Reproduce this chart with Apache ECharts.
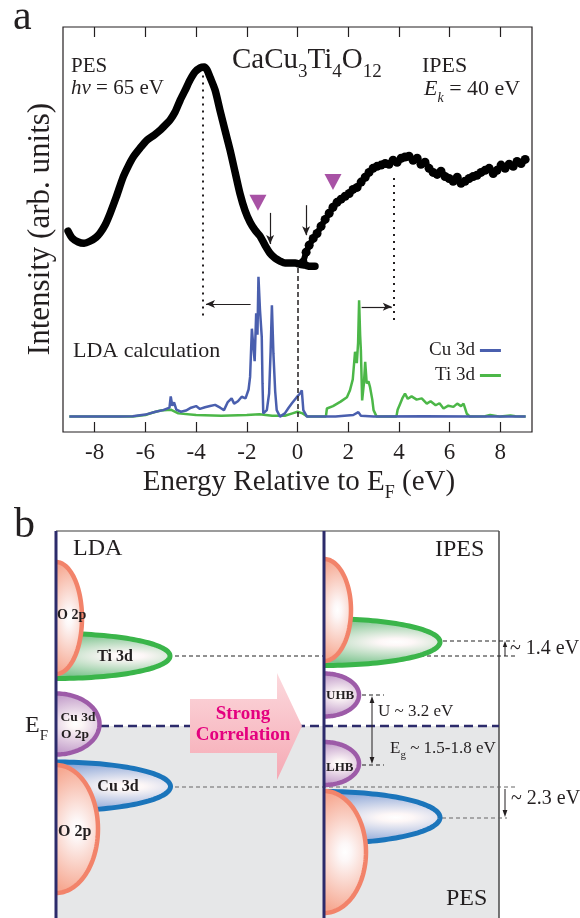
<!DOCTYPE html>
<html><head><meta charset="utf-8">
<script src="https://cdn.jsdelivr.net/npm/echarts@6/dist/echarts.min.js"></script>
<style>html,body{margin:0;padding:0;background:#fff}#c{width:580px;height:918px}</style>
</head><body><div id="c"></div>
<script>
// ---------- data (panel a) ----------
const xTicks = [-8,-6,-4,-2,0,2,4,6,8];
const pesData = [[-9.05,49.6],[-8.89,47.9],[-8.65,46.9],[-8.42,46.6],[-8.19,47.1],[-7.94,48.1],[-7.79,49.1],[-7.59,51.1],[-7.39,54.0],[-7.15,58.0],[-6.88,62.9],[-6.68,65.6],[-6.48,67.9],[-6.21,70.1],[-5.93,72.1],[-5.66,73.3],[-5.42,74.5],[-5.18,76.0],[-5.03,77.0],[-4.83,79.0],[-4.63,81.9],[-4.43,84.4],[-4.24,86.9],[-4.04,88.9],[-3.84,89.9],[-3.68,90.1],[-3.57,89.4],[-3.45,87.6],[-3.25,84.4],[-3.06,79.5],[-2.86,74.5],[-2.66,69.6],[-2.46,64.1],[-2.27,58.9],[-2.07,54.7],[-1.87,51.8],[-1.67,49.8],[-1.48,48.4],[-1.28,46.1],[-1.08,44.1],[-0.88,42.9],[-0.69,42.2],[-0.49,41.7],[-0.29,41.7],[-0.09,41.7],[0.10,41.4],[0.30,41.2],[0.50,40.9],[0.69,40.9]];
const ipesData = [[0.22,41.9],[0.34,44.4],[0.46,46.1],[0.62,47.8],[0.77,49.0],[0.93,50.8],[1.09,52.5],[1.25,54.0],[1.40,55.5],[1.56,56.7],[1.72,57.5],[1.88,58.2],[2.04,58.9],[2.19,59.9],[2.35,60.4],[2.51,61.7],[2.67,62.9],[2.82,64.1],[2.98,65.1],[3.14,65.6],[3.30,65.9],[3.46,66.3],[3.61,66.1],[3.77,67.1],[3.93,66.6],[4.09,67.6],[4.24,67.9],[4.40,68.1],[4.56,67.1],[4.72,67.6],[4.87,66.1],[5.03,66.6],[5.19,65.1],[5.35,64.1],[5.51,63.6],[5.66,64.4],[5.82,63.1],[5.98,62.6],[6.14,61.9],[6.30,62.9],[6.45,61.4],[6.61,61.9],[6.77,62.6],[6.93,63.1],[7.08,63.4],[7.24,64.1],[7.40,64.6],[7.56,65.1],[7.72,63.8],[7.87,64.6],[8.03,65.9],[8.19,65.1],[8.35,66.1],[8.51,65.6],[8.66,66.8],[8.82,66.3],[8.98,67.3]];
const cu3dData = [[-9.0,3.8],[-7.0,3.8],[-6.5,3.9],[-6.0,4.3],[-5.6,5.0],[-5.3,5.4],[-5.05,6.0],[-5.0,8.8],[-4.94,6.5],[-4.87,7.3],[-4.78,5.5],[-4.6,5.0],[-4.4,5.3],[-4.2,6.0],[-4.0,6.4],[-3.85,5.7],[-3.65,6.1],[-3.45,6.4],[-3.25,6.7],[-3.05,6.0],[-2.9,5.4],[-2.75,7.4],[-2.6,8.3],[-2.5,7.0],[-2.35,7.6],[-2.2,8.7],[-2.05,8.3],[-1.93,10.5],[-1.87,13.6],[-1.8,25.5],[-1.74,21.0],[-1.69,17.5],[-1.63,29.3],[-1.58,24.0],[-1.54,38.3],[-1.48,30.1],[-1.41,23.5],[-1.38,12.0],[-1.35,4.6],[-1.21,5.4],[-1.12,9.5],[-1.06,20.0],[-1.01,31.3],[-0.95,19.4],[-0.88,10.0],[-0.82,5.4],[-0.69,3.8],[-0.5,4.6],[-0.35,6.0],[-0.22,7.1],[-0.03,8.6],[0.1,9.5],[0.17,10.3],[0.23,5.4],[0.37,3.8],[1.5,3.8],[2.2,4.2],[2.4,4.9],[2.5,4.0],[3.0,3.8],[5.0,3.9],[7.0,3.8],[9.0,3.8]];
const ti3dData = [[-9.0,3.8],[-6.5,3.8],[-6.0,4.2],[-5.7,4.8],[-5.4,5.3],[-5.0,5.5],[-4.7,4.6],[-4.0,4.2],[-3.0,4.0],[-2.0,4.2],[-1.5,4.4],[-1.0,4.0],[-0.5,4.0],[-0.2,4.6],[0.0,5.0],[0.2,4.6],[0.4,3.8],[1.12,3.8],[1.16,5.8],[1.4,6.4],[1.7,7.5],[1.95,8.6],[2.07,10.3],[2.18,13.0],[2.27,19.8],[2.34,17.0],[2.39,22.0],[2.43,32.5],[2.47,24.0],[2.5,20.2],[2.55,7.8],[2.62,12.0],[2.67,17.3],[2.73,12.0],[2.8,12.5],[2.86,11.1],[2.95,8.0],[3.0,5.4],[3.12,3.8],[3.9,3.8],[3.95,5.5],[4.05,7.0],[4.15,8.5],[4.24,9.5],[4.35,8.2],[4.5,8.8],[4.7,8.0],[4.9,8.3],[5.1,7.0],[5.25,7.6],[5.45,6.6],[5.6,7.1],[5.76,5.8],[5.95,6.5],[6.15,6.2],[6.3,7.0],[6.45,6.4],[6.55,7.0],[6.68,4.5],[6.8,3.8],[7.4,3.9],[7.6,4.2],[8.0,3.8],[8.4,4.1],[8.6,3.9],[9.0,3.8]];
const triangleMarks = [[-1.56,56.6],[1.40,61.7]];
const peakGuides = [[-3.72,88.0,28.0],[3.78,62.7,26.4]];   // E, vTop, vBottom
const efGuide = [0,40.5,3.7];
const shiftArrows = [[-1.85,-3.61,31.6],[2.53,3.72,30.9]]; // Efrom, Eto, v
const downArrows = [[-1.08,54.1,46.4],[0.34,56.0,48.6]];   // E, vFrom, vTo

// ---------- schematic (panel b) ----------
const bandNames = ['Ti 3d','O 2p','Cu 3d / O 2p','Cu 3d','O 2p','Ti 3d','O 2p','UHB','LHB','Cu 3d','O 2p'];
const energyGaps = ['~ 1.4 eV','U ~ 3.2 eV','1.5-1.8 eV','~ 2.3 eV'];

const TXT = '#231f20';
const SERIF = "'Liberation Serif', 'Times New Roman', serif";
const NAVY = '#2c2b6b';
const mctx = document.createElement('canvas').getContext('2d');
function fnt(size, o){ o=o||{}; return (o.style||'normal')+' '+(o.weight||'normal')+' '+size+'px '+SERIF; }
function tw(t, f){ mctx.font = f; return mctx.measureText(t).width; }
let zc = 10;
function txt(text, x, base, size, o){
  o=o||{};
  const al = o.align||'left';
  return {type:'text', z: 60, x:x, y: base - 0.33*size, rotation:o.rot||0,
    style:{text:text, font:fnt(size,o), fill:o.fill||TXT, textAlign:al, align:al, textVerticalAlign:'middle', verticalAlign:'middle'}};
}
function seq(parts, x, base, align){
  const ws = parts.map(p=>tw(p.t, fnt(p.size,p)));
  const total = ws.reduce((a,b)=>a+b,0);
  let cx = align==='center' ? x-total/2 : x;
  return parts.map((p,i)=>{ const e = txt(p.t, cx, base+(p.dy||0), p.size, p); cx += ws[i]; return e; });
}
function line(x1,y1,x2,y2,stroke,w,dash){
  return {type:'line', z: zc++, shape:{x1,y1,x2,y2}, style:{stroke, lineWidth:w, lineDash:dash||null}};
}
function head(x,y,dir,len,half){
  len=len||7; half=half||2.6;
  let p;
  if(dir==='up') p=[[x,y],[x-half,y+len],[x+half,y+len]];
  else if(dir==='down') p=[[x,y],[x-half,y-len],[x+half,y-len]];
  return {type:'polygon', z: zc++, shape:{points:p}, style:{fill:TXT}};
}
const palette = {
  o2p:{stroke:'#f2836a', fill:'#f6a891', w:4.5, gx:0.5, r:1.0},
  green:{stroke:'#3ab54a', fill:'#7cc48e', w:5, gx:0.62, r:1.0},
  purple:{stroke:'#9d5ba8', fill:'#c29dca', w:4.5, gx:0.45, r:1.0},
  blue:{stroke:'#1b75bb', fill:'#8ca7d8', w:5, gx:0.62, r:1.0}
};
function band(x0, cy, rx, ry, kind){
  const pal = palette[kind];
  const n = 80, circ = [], pts = [];
  for(let i=0;i<=n;i++){
    const t = -Math.PI/2 + Math.PI*i/n;
    circ.push([rx*Math.cos(t), rx*Math.sin(t)]);
    pts.push([x0+rx*Math.cos(t), cy+ry*Math.sin(t)]);
  }
  return [
    {type:'polygon', z: zc++, x:x0, y:cy, scaleY: ry/rx, shape:{points:circ},
      style:{fill:{type:'radial', x:pal.gx, y:0.5, r:pal.r, colorStops:[{offset:0,color:'#ffffff'},{offset:0.15,color:'#fdf7f7'},{offset:1,color:pal.fill}]}}},
    {type:'polyline', z: zc++, shape:{points:pts}, style:{stroke:pal.stroke, lineWidth:pal.w, fill:'none'}}
  ];
}

const G = [];
// panel labels
G.push(txt('a', 13, 32, 42));
G.push(txt('b', 14, 540, 42));
// panel a texts
G.push(txt('PES', 71, 73, 21));
G.push(...seq([{t:'h\u03BD', size:21, style:'italic'},{t:' = 65 eV', size:21}], 71, 95));
G.push(...seq([{t:'CaCu',size:29},{t:'3',size:19,dy:8},{t:'Ti',size:29},{t:'4',size:19,dy:8},{t:'O',size:29},{t:'12',size:19,dy:8}], 232, 70));
G.push(txt('IPES', 422, 73, 22));
G.push(...seq([{t:'E',size:22,style:'italic'},{t:'k',size:14,style:'italic',dy:7},{t:' = 40 eV',size:22}], 424, 96));
G.push(txt('LDA calculation', 73, 358, 22));
G.push({type:'text', z:60, x:41, y:229, rotation:Math.PI/2, style:{text:'Intensity (arb. units)', font:fnt(31), fill:TXT, textAlign:'center', align:'center', textVerticalAlign:'middle', verticalAlign:'middle'}});
G.push(...seq([{t:'Energy Relative to E',size:29},{t:'F',size:18,dy:7},{t:' (eV)',size:29}], 299, 492, 'center'));

// panel b frame
const B = {x0:56, xm:324, x1:499, y0:531, yF:726, y1:918};
G.push({type:'rect', z: zc++, shape:{x:B.x0, y:B.yF, width:B.x1-B.x0, height:B.y1-B.yF}, style:{fill:'#e6e7e8'}});
G.push(line(B.x0, B.y0, B.x1, B.y0, '#3a3a3a', 1.2));
G.push(line(B.x1, B.y0, B.x1, B.y1, '#4a4a4a', 1.5));
// level guides
G.push(line(175, 656, 515, 656, '#222', 1, [4,3]));
G.push(line(175, 787, 515, 787, '#666', 1.2, [4,3]));
G.push(line(443, 641, 515, 641, '#222', 1, [4,3]));
G.push(line(442, 818, 507, 818, '#666', 1.2, [4,3]));
G.push(line(362, 695, 384, 695, '#222', 1, [4,3]));
G.push(line(362, 765, 384, 765, '#222', 1, [4,3]));
G.push(line(100, B.yF, B.x1, B.yF, NAVY, 2.6, [9,5]));
// Strong correlation arrow
G.push({type:'polygon', z: zc++, shape:{points:[[190,699],[277,699],[277,673],[302,726],[277,780],[277,753],[190,753]]},
  style:{fill:{type:'linear', x:0, y:0, x2:0, y2:1, colorStops:[{offset:0,color:'#fcd9dd'},{offset:1,color:'#f5a9b4'}]}}});
// bands: left (LDA)
G.push(...band(56, 656, 114, 22.5, 'green'));
G.push(...band(56, 618, 26, 56, 'o2p'));
G.push(...band(56, 724, 43.5, 30.5, 'purple'));
G.push(...band(56, 786.5, 114.5, 24.5, 'blue'));
G.push(...band(56, 829, 42, 64, 'o2p'));
// bands: right (PES/IPES)
G.push(...band(324, 642, 116, 23.5, 'green'));
G.push(...band(324, 610, 27, 51, 'o2p'));
G.push(...band(324, 695, 35, 21.5, 'purple'));
G.push(...band(324, 763.5, 35, 21.5, 'purple'));
G.push(...band(324, 817.5, 116, 26, 'blue'));
G.push(...band(324, 852, 42, 61, 'o2p'));
// navy verticals
G.push(line(B.x0, B.y0, B.x0, B.y1, NAVY, 3));
G.push(line(B.xm, B.y0, B.xm, B.y1, NAVY, 3));
// arrows
G.push(line(505, 656, 505, 645, TXT, 1)); G.push(head(505, 641, 'up', 6, 2.2));
G.push(line(372, 702, 372, 758, TXT, 1)); G.push(head(372, 696, 'up', 7, 2.4)); G.push(head(372, 764, 'down', 7, 2.4));
G.push(line(505, 789, 505, 811, TXT, 1)); G.push(head(505, 817, 'down', 7, 2.4));
// band labels
const B1 = {weight:'bold'};
G.push(txt(bandNames[0], 115, 662, 16, {weight:'bold', align:'center'}));
G.push(txt(bandNames[1], 57, 620, 14, B1));
G.push(txt('Cu 3d', 78, 722, 13.5, {weight:'bold', align:'center'}));
G.push(txt('O 2p', 75, 739, 13.5, {weight:'bold', align:'center'}));
G.push(txt(bandNames[3], 118, 792, 16, {weight:'bold', align:'center'}));
G.push(txt(bandNames[4], 58, 837, 16, B1));
G.push(txt(bandNames[7], 326, 700, 13, B1));
G.push(txt(bandNames[8], 326, 772, 13, B1));
G.push(txt('Strong', 243, 720, 19, {weight:'bold', align:'center', fill:'#e4007f'}));
G.push(txt('Correlation', 243, 741, 19, {weight:'bold', align:'center', fill:'#e4007f'}));
// panel b texts
G.push(txt('LDA', 73, 557, 24));
G.push(txt('IPES', 435, 558, 24));
G.push(txt('PES', 446, 907, 24));
G.push(...seq([{t:'E',size:24},{t:'F',size:15,dy:7}], 25, 734));
G.push(txt(energyGaps[1], 378, 717, 17));
G.push(...seq([{t:'E',size:17},{t:'g',size:11,dy:5},{t:' ~ '+energyGaps[2],size:17}], 390, 754));
G.push(txt(energyGaps[0], 510, 655, 20));
G.push(txt(energyGaps[3], 511, 805, 20));

const guideLine = {type:[2,5], width:2, color:TXT};
const markData = [];
peakGuides.forEach(g=>markData.push([{coord:[g[0],g[1]], symbol:'none'},{coord:[g[0],g[2]], symbol:'none', lineStyle:guideLine}]));
markData.push([{coord:[efGuide[0],efGuide[1]], symbol:'none'},{coord:[efGuide[0],efGuide[2]], symbol:'none', lineStyle:{type:[5,3], width:1.5, color:TXT}}]);
shiftArrows.forEach(a=>markData.push([{coord:[a[0],a[2]], symbol:'none'},{coord:[a[1],a[2]], symbol:'arrow', symbolSize:[6,9], lineStyle:{type:'solid', width:1.2, color:TXT}}]));
downArrows.forEach(a=>markData.push([{coord:[a[0],a[1]], symbol:'none'},{coord:[a[0],a[2]], symbol:'arrow', symbolSize:[6,9], lineStyle:{type:'solid', width:1.2, color:TXT}}]));

const chart = echarts.init(document.getElementById('c'), null, {renderer:'canvas'});
chart.setOption({
  backgroundColor:'#fff',
  animation:false,
  grid:{left:63, top:27, width:469, height:405, show:true, borderColor:TXT, borderWidth:1.2, backgroundColor:'transparent'},
  xAxis:[
    {type:'value', min:-9.25, max:9.25, position:'bottom', axisLine:{show:false}, splitLine:{show:false},
     axisTick:{inside:true, length:10, customValues:xTicks, lineStyle:{color:TXT, width:1.2}},
     axisLabel:{customValues:xTicks, fontSize:23, fontFamily:SERIF, color:TXT, margin:9}},
    {type:'value', min:-9.25, max:9.25, position:'top', axisLine:{show:false}, splitLine:{show:false},
     axisTick:{inside:true, length:10, customValues:xTicks, lineStyle:{color:TXT, width:1.2}},
     axisLabel:{show:false}}
  ],
  yAxis:{type:'value', min:0, max:100, show:false},
  legend:{orient:'vertical', left:424, top:336, align:'right', icon:'rect', itemWidth:21, itemHeight:3, itemGap:6,
    textStyle:{fontFamily:SERIF, fontSize:19, color:TXT, padding:[0,0,0,0]}, data:['Cu 3d','Ti 3d']},
  series:[
    {name:'Ti 3d', type:'line', data:ti3dData, showSymbol:false, lineStyle:{color:'#4cb748', width:2.5}, itemStyle:{color:'#4cb748'}, z:3},
    {name:'Cu 3d', type:'line', data:cu3dData, showSymbol:false, lineStyle:{color:'#4a5fae', width:2.5}, itemStyle:{color:'#4a5fae'}, z:4},
    {name:'PES', type:'line', data:pesData, showSymbol:false, smooth:0.25, lineStyle:{color:'#000', width:7.5, cap:'round', join:'round'}, z:5,
     markLine:{silent:true, animation:false, label:{show:false}, symbol:'none', lineStyle:{color:TXT}, data:markData}},
    {name:'IPES', type:'line', data:ipesData, symbol:'circle', symbolSize:9, showSymbol:true, lineStyle:{color:'#000', width:6, join:'round'}, itemStyle:{color:'#000'}, z:5},
    {name:'marks', type:'scatter', data:triangleMarks, symbol:'triangle', symbolRotate:180, symbolSize:[17,16], itemStyle:{color:'#92278f'}, z:6}
  ],
  graphic: G
});
</script></body></html>
